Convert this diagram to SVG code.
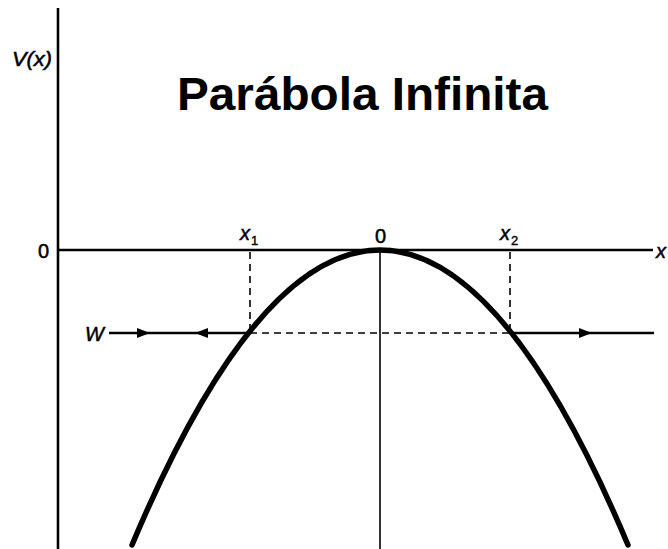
<svg xmlns="http://www.w3.org/2000/svg" width="668" height="549" viewBox="0 0 668 549">
<style>
.ax{stroke:#000;stroke-width:2.6;fill:none}
.thin{stroke:#000;stroke-width:1.6;fill:none}
.dash{stroke:#000;stroke-width:1.6;fill:none;stroke-dasharray:7 5}
.lbl{font-family:"Liberation Sans",Arial,sans-serif;font-size:20px;fill:#000;stroke:#000;stroke-width:0.5}
.sub{font-family:"Liberation Sans",Arial,sans-serif;font-size:13px;fill:#000;stroke:#000;stroke-width:0.4}
.title{font-family:"Liberation Sans",Arial,sans-serif;font-size:46px;font-weight:bold;fill:#000}
</style>
<rect width="668" height="549" fill="#fff"/>
<g id="title"><text class="title" x="177" y="110" textLength="371" lengthAdjust="spacingAndGlyphs">Parábola Infinita</text></g>
<g id="axes">
<line class="ax" x1="58" y1="8" x2="58" y2="549"/>
<line class="ax" x1="57" y1="250" x2="653" y2="250"/>
<line class="thin" x1="380" y1="250" x2="380" y2="549"/>
</g>
<g id="labels">
<text class="lbl" x="12" y="66" font-style="italic" textLength="40" lengthAdjust="spacingAndGlyphs">V(x)</text>
<text class="lbl" x="38" y="258">0</text>
<text class="lbl" x="375" y="243">0</text>
<text class="lbl" x="240" y="240" font-style="italic">x</text><text class="sub" x="251" y="245">1</text>
<text class="lbl" x="500" y="240" font-style="italic">x</text><text class="sub" x="511" y="245">2</text>
<text class="lbl" x="656" y="258" font-style="italic">x</text>
<text class="lbl" x="85" y="341" font-style="italic">W</text>
</g>
<g id="connectors">
<line class="dash" x1="250" y1="252" x2="250" y2="333"/>
<line class="dash" x1="510" y1="252" x2="510" y2="333"/>
<line class="dash" x1="250" y1="333" x2="510" y2="333"/>
<line class="ax" x1="109" y1="333" x2="250" y2="333"/>
<line class="ax" x1="510" y1="333" x2="654" y2="333"/>
<polygon points="150,333 137,328 137,338" fill="#000"/>
<polygon points="195,333 208,328 208,338" fill="#000"/>
<polygon points="592,333 579,328 579,338" fill="#000"/>
</g>
<g id="parabola">
<path d="M132,545 Q380,-45 628,545" fill="none" stroke="#000" stroke-width="5.5" stroke-linecap="round"/>
</g>
</svg>
